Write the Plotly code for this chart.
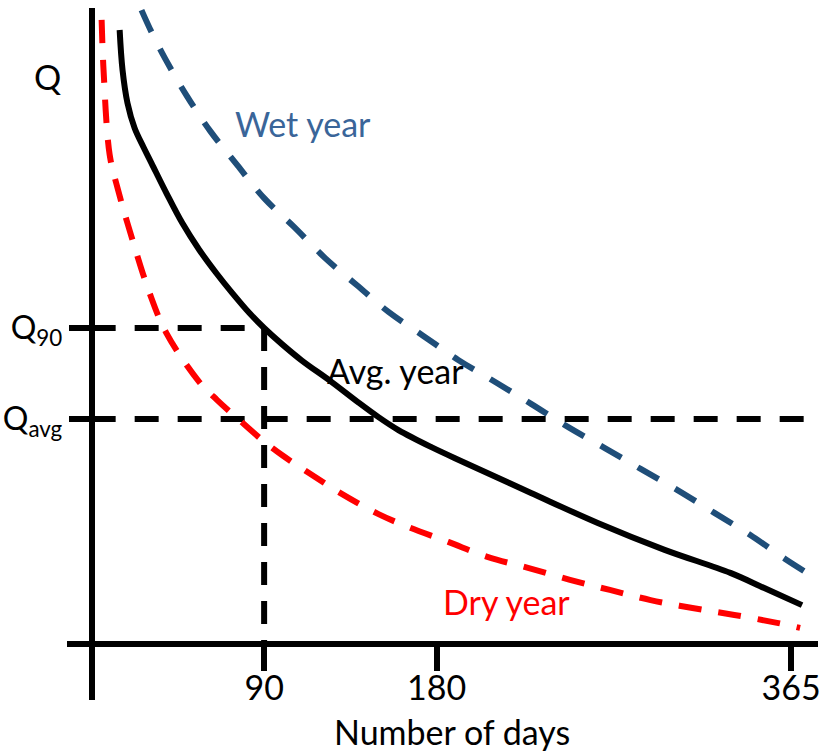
import plotly.graph_objects as go

# ---- data (days, Q in arbitrary units) ----
avg_days = [14.6, 16.1, 18.7, 22.4, 27.0, 31.2, 39.0, 47.3, 56.2, 65.0, 73.3, 82.2, 90.0,
            99.3, 109.7, 125.3, 139.3, 149.7, 160.1, 177.3, 195.0, 229.3, 264.1, 299.0,
            333.3, 351.0, 370.7]
avg_q = [194.3, 181.7, 171.2, 163.3, 157.3, 152.2, 142.7, 133.2, 124.7, 117.4, 111.1, 104.8,
         100.0, 94.9, 89.7, 82.9, 76.4, 71.8, 67.7, 62.3, 57.3, 47.8, 38.3, 29.8, 22.5,
         17.7, 12.3]

dry_days = [5.2, 6.2, 9.4, 13.5, 21.3, 30.2, 39.0, 56.2, 65.5, 77.0, 88.9, 99.3, 113.4,
            130.5, 149.7, 165.3, 186.1, 206.9, 227.7, 249.6, 270.4, 291.7, 313.5, 335.4,
            357.7, 369.7]
dry_q = [197.5, 181.7, 154.8, 144.3, 127.9, 111.1, 98.4, 82.9, 77.2, 70.9, 64.6, 59.8, 54.1,
         47.5, 41.1, 37.0, 32.3, 27.5, 24.1, 20.3, 17.1, 13.9, 11.4, 9.2, 6.7, 5.1]

wet_days = [26.0, 31.2, 38.5, 49.4, 61.9, 75.9, 90.0, 105.6, 121.7, 138.3, 154.9, 173.1,
            191.3, 210.6, 229.3, 248.5, 267.8, 286.5, 305.7, 325.0, 343.7, 361.9, 377.5]
wet_q = [200.6, 193.7, 185.1, 173.7, 162.3, 151.6, 141.1, 132.0, 122.2, 113.6, 105.1, 97.5,
         89.9, 82.9, 76.0, 68.7, 62.0, 55.4, 48.7, 41.5, 34.5, 26.9, 20.9]

q90 = 100.0
qavg = 71.2
d90 = 90
x_ticks = [90, 180, 365]
x_tick_labels = ["90", "180", "365"]
y_ticks = [q90, qavg]
y_tick_labels = ["Q<sub>90</sub>", "Q<sub>avg</sub>"]

FONT = "Lato, 'Noto Sans', sans-serif"
FS = 34
W, H = 821, 752

fig = go.Figure()

# reference dashed lines
fig.add_trace(go.Scatter(x=[0, d90], y=[q90, q90], mode="lines",
                         line=dict(color="black", width=6, dash="24px,19px")))
fig.add_trace(go.Scatter(x=[d90, d90], y=[q90, 0], mode="lines",
                         line=dict(color="black", width=6, dash="23px,16px")))
fig.add_trace(go.Scatter(x=[0, 380], y=[qavg, qavg], mode="lines",
                         line=dict(color="black", width=6, dash="24px,19px")))

# curves
fig.add_trace(go.Scatter(x=wet_days, y=wet_q, mode="lines", line_shape="spline",
                         line=dict(color="#1F4E79", width=6, dash="24px,19px")))
fig.add_trace(go.Scatter(x=dry_days, y=dry_q, mode="lines", line_shape="spline",
                         line=dict(color="#FF0000", width=6, dash="23px,17px")))
fig.add_trace(go.Scatter(x=avg_days, y=avg_q, mode="lines", line_shape="spline",
                         line=dict(color="black", width=6)))

# axis geometry (pixels -> paper)
x_dom = [67 / W, 1.0]
y_dom = [(H - 700) / H, (H - 8) / H]
k = (794 - 92) / 365.0          # px per day
s = (644 - 328) / q90          # px per Q unit
x_range = [(67 - 92) / k, (821 - 92) / k]
y_range = [-(700 - 644) / s, (644 - 8) / s]

fig.update_layout(
    width=W, height=H,
    margin=dict(l=0, r=0, t=0, b=0),
    paper_bgcolor="white", plot_bgcolor="white",
    showlegend=False,
    font=dict(family=FONT, size=FS, color="black"),
    xaxis=dict(domain=x_dom, range=x_range, anchor="free", position=(H - 644) / H,
               showline=True, linewidth=6, linecolor="black",
               showgrid=False, zeroline=False,
               tickmode="array", tickvals=x_ticks, ticktext=x_tick_labels,
               ticks="outside", ticklen=24, tickwidth=6, tickcolor="black",
               ticklabeloverflow="allow", ticklabelstandoff=-12,
               tickfont=dict(family=FONT, size=FS, color="black")),
    yaxis=dict(domain=y_dom, range=y_range, anchor="free", position=92 / W,
               showline=True, linewidth=6, linecolor="black",
               showgrid=False, zeroline=False,
               tickmode="array", tickvals=y_ticks, ticktext=y_tick_labels,
               ticks="outside", ticklen=20, tickwidth=6, tickcolor="black",
               ticklabeloverflow="allow",
               tickfont=dict(family=FONT, size=32, color="black")),
)

def label(text, px, py, color="black", size=FS):
    fig.add_annotation(text=text, x=px / W, y=1 - py / H, xref="paper", yref="paper",
                       xanchor="center", yanchor="middle", showarrow=False,
                       font=dict(family=FONT, size=size, color=color))

label("Q", 48, 76)
label("Wet year", 304, 123, color="#3A6599")
label("Avg. year", 397, 370)
label("Dry year", 508, 601, color="#FF0000")
label("Number of days", 454, 731)

fig.write_html("out.html", config={"displayModeBar": False},
               post_script="document.body.style.margin='0';document.body.style.overflow='hidden';")
